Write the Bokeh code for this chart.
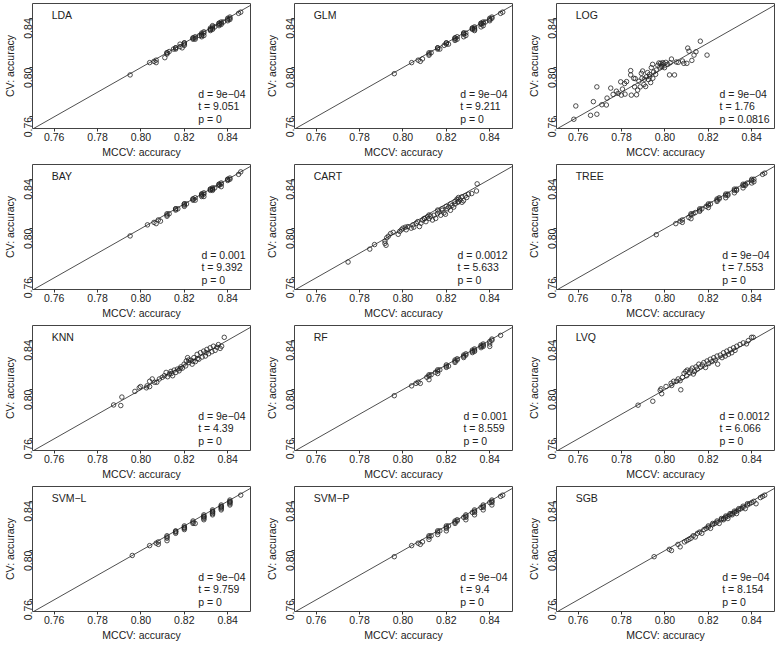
import math
from bokeh.plotting import figure
from bokeh.layouts import gridplot
from bokeh.models import Range1d, FixedTicker, NumeralTickFormatter, Slope, Label
from bokeh.embed import file_html
from bokeh.resources import INLINE

# ---------------- data ----------------
panels = ["LDA", "GLM", "LOG", "BAY", "CART", "TREE",
          "KNN", "RF", "LVQ", "SVM\u2212L", "SVM\u2212P", "SGB"]
d_values = ["9e\u221204", "9e\u221204", "9e\u221204", "0.001", "0.0012", "9e\u221204",
            "9e\u221204", "0.001", "0.0012", "9e\u221204", "9e\u221204", "9e\u221204"]
t_values = ["9.051", "9.211", "1.76", "9.392", "5.633", "7.553",
            "4.39", "8.559", "6.066", "9.759", "9.4", "8.154"]
p_values = ["0", "0", "0.0816", "0", "0", "0", "0", "0", "0", "0", "0", "0"]

x_ticks = [0.76, 0.78, 0.80, 0.82, 0.84]
y_ticks = [0.76, 0.80, 0.84]
x_label = "MCCV: accuracy"
y_label = "CV: accuracy"

LDA_pts = [(0.795,0.794),(0.804,0.804),(0.806,0.805),(0.807,0.806),(0.807,0.804),(0.811,0.808),
           (0.812,0.811),(0.812,0.812),(0.813,0.813),(0.815,0.815),(0.816,0.815),(0.816,0.816),
           (0.818,0.819),(0.818,0.817),(0.819,0.816),(0.820,0.820),(0.820,0.818),(0.820,0.819),
           (0.824,0.823),(0.824,0.824),(0.825,0.824),(0.825,0.825),(0.827,0.826),(0.828,0.827),
           (0.828,0.825),(0.829,0.828),(0.829,0.826),(0.832,0.831),(0.832,0.830),(0.833,0.832),
           (0.833,0.833),(0.833,0.831),(0.834,0.833),(0.836,0.835),(0.836,0.836),(0.837,0.836),
           (0.837,0.837),(0.838,0.837),(0.840,0.838),(0.840,0.839),(0.841,0.840),(0.841,0.841),
           (0.845,0.844),(0.846,0.845),(0.824,0.824),(0.828,0.828),(0.832,0.832),(0.833,0.834),
           (0.836,0.836),(0.840,0.840),(0.841,0.839),(0.820,0.820),(0.816,0.816),(0.812,0.812),
           (0.829,0.829),(0.837,0.835),(0.825,0.823),(0.828,0.826),(0.832,0.831),(0.836,0.834)]
GLM_pts = [(0.796,0.795),(0.804,0.804),(0.807,0.806),(0.808,0.805),(0.809,0.807),(0.812,0.811),
           (0.812,0.810),(0.813,0.812),(0.816,0.815),(0.816,0.816),(0.817,0.815),(0.819,0.818),
           (0.820,0.819),(0.820,0.820),(0.821,0.819),(0.824,0.823),(0.824,0.824),(0.825,0.825),
           (0.828,0.827),(0.828,0.828),(0.829,0.826),(0.832,0.831),(0.832,0.832),(0.833,0.830),
           (0.833,0.832),(0.836,0.835),(0.836,0.836),(0.837,0.834),(0.838,0.837),(0.840,0.839),
           (0.840,0.838),(0.841,0.840),(0.845,0.844),(0.846,0.845),(0.824,0.822),(0.812,0.812),
           (0.828,0.825),(0.836,0.833),(0.820,0.820),(0.824,0.824),(0.828,0.828),(0.829,0.828),
           (0.832,0.832),(0.833,0.833),(0.836,0.836),(0.837,0.836),(0.840,0.840),(0.841,0.841),
           (0.816,0.816),(0.825,0.823),(0.833,0.831),(0.837,0.837)]
LOG_pts = [(0.7580,0.7580),(0.7589,0.7688),(0.7657,0.7612),(0.7670,0.7723),(0.7686,0.7843),
           (0.7686,0.7621),(0.7709,0.7698),(0.7730,0.7696),(0.7733,0.7752),(0.7750,0.7833),
           (0.7761,0.7782),(0.7776,0.7808),(0.7784,0.7790),(0.7796,0.7884),(0.7799,0.7776),
           (0.7804,0.7825),(0.7814,0.7870),(0.7816,0.7784),(0.7823,0.7886),(0.7842,0.7975),
           (0.7842,0.7940),(0.7845,0.7776),(0.7856,0.7913),(0.7860,0.7843),(0.7863,0.7910),
           (0.7869,0.7779),(0.7874,0.7817),(0.7880,0.7889),(0.7886,0.7843),(0.7891,0.7953),
           (0.7894,0.7913),(0.7897,0.7972),(0.7903,0.7862),(0.7911,0.7846),(0.7914,0.7924),
           (0.7920,0.7959),(0.7924,0.7902),(0.7929,0.7943),(0.7934,0.7878),(0.7937,0.7999),
           (0.7943,0.8026),(0.7944,0.7913),(0.7948,0.7964),(0.7957,0.7945),(0.7960,0.7980),
           (0.7967,0.8018),(0.7972,0.8037),(0.7977,0.8004),(0.7980,0.8034),(0.7987,0.8021),
           (0.7998,0.7999),(0.8004,0.8042),(0.8013,0.8026),(0.8021,0.7940),(0.8024,0.8039),
           (0.8030,0.8069),(0.8044,0.7940),(0.8052,0.8045),(0.8061,0.8042),(0.8081,0.8053),
           (0.8087,0.8034),(0.8101,0.8034),(0.8105,0.8158),(0.8111,0.8133),(0.8124,0.8058),
           (0.8134,0.8101),(0.8143,0.8128),(0.8163,0.8214),(0.8194,0.8101),(0.7990,0.8040),
           (0.7995,0.8030),(0.7985,0.8010),(0.7930,0.7925),(0.7905,0.7905)]
BAY_pts = [(0.795,0.794),(0.803,0.803),(0.806,0.805),(0.807,0.804),(0.808,0.807),(0.809,0.806),
           (0.812,0.811),(0.812,0.812),(0.813,0.812),(0.816,0.815),(0.816,0.816),(0.817,0.816),
           (0.820,0.819),(0.820,0.820),(0.821,0.820),(0.824,0.823),(0.824,0.824),(0.825,0.823),
           (0.828,0.827),(0.828,0.828),(0.829,0.828),(0.829,0.826),(0.832,0.831),(0.832,0.832),
           (0.833,0.832),(0.833,0.831),(0.834,0.833),(0.836,0.835),(0.837,0.836),(0.837,0.834),
           (0.840,0.839),(0.840,0.840),(0.841,0.840),(0.845,0.844),(0.846,0.846),(0.820,0.818),
           (0.812,0.810),(0.828,0.826),(0.836,0.836),(0.824,0.824),(0.828,0.828),(0.829,0.829),
           (0.832,0.832),(0.833,0.833),(0.836,0.836),(0.837,0.837),(0.840,0.840),(0.841,0.841),
           (0.820,0.820),(0.816,0.816),(0.825,0.825),(0.833,0.832)]
CART_pts = [(0.7747,0.7728),(0.7847,0.7833),(0.7869,0.7870),(0.7917,0.7898),(0.7917,0.7880),
            (0.7922,0.7864),(0.7925,0.7925),(0.7933,0.7938),(0.7943,0.7959),(0.7955,0.7969),
            (0.7978,0.7953),(0.7985,0.7977),(0.7993,0.7990),(0.8000,0.8003),(0.8011,0.8011),
            (0.8023,0.8016),(0.8015,0.7990),(0.8038,0.8003),(0.8046,0.8030),(0.8050,0.8011),
            (0.8061,0.8043),(0.8068,0.8056),(0.8076,0.8016),(0.8083,0.8043),(0.8091,0.8069),
            (0.8098,0.8082),(0.8106,0.8056),(0.8113,0.8095),(0.8121,0.8082),(0.8128,0.8100),
            (0.8136,0.8069),(0.8143,0.8108),(0.8151,0.8082),(0.8159,0.8121),(0.8166,0.8134),
            (0.8174,0.8108),(0.8181,0.8148),(0.8189,0.8127),(0.8196,0.8116),(0.8204,0.8161),
            (0.8211,0.8174),(0.8219,0.8148),(0.8226,0.8187),(0.8234,0.8174),(0.8241,0.8200),
            (0.8249,0.8239),(0.8253,0.8213),(0.8256,0.8252),(0.8264,0.8232),(0.8272,0.8258),
            (0.8279,0.8226),(0.8287,0.8266),(0.8294,0.8252),(0.8302,0.8279),(0.8256,0.8221),
            (0.8272,0.8213),(0.8317,0.8284),(0.8339,0.8305),(0.8342,0.8363),(0.8180,0.8160),
            (0.8200,0.8180),(0.8220,0.8200),(0.8160,0.8150),(0.8120,0.8110),(0.8100,0.8080),
            (0.8240,0.8220)]
TREE_pts = [(0.796,0.795),(0.805,0.804),(0.807,0.806),(0.808,0.807),(0.808,0.805),(0.811,0.809),
            (0.812,0.808),(0.812,0.811),(0.813,0.812),(0.814,0.813),(0.816,0.815),(0.816,0.816),
            (0.817,0.816),(0.819,0.818),(0.820,0.819),(0.820,0.817),(0.821,0.820),(0.824,0.823),
            (0.824,0.822),(0.825,0.824),(0.828,0.827),(0.828,0.825),(0.829,0.828),(0.832,0.831),
            (0.832,0.829),(0.833,0.832),(0.836,0.835),(0.836,0.833),(0.837,0.836),(0.838,0.837),
            (0.840,0.839),(0.840,0.837),(0.841,0.840),(0.845,0.844),(0.846,0.845),(0.820,0.820),
            (0.824,0.824),(0.828,0.828),(0.829,0.827),(0.832,0.832),(0.833,0.831),(0.836,0.836),
            (0.837,0.835),(0.840,0.840),(0.841,0.838),(0.816,0.814),(0.812,0.812),(0.825,0.825)]
KNN_pts = [(0.7874,0.7875),(0.7907,0.7870),(0.7912,0.7939),(0.7972,0.7985),(0.7992,0.8014),
           (0.7998,0.8024),(0.8025,0.8014),(0.8028,0.8030),(0.8040,0.8024),(0.8063,0.8059),
           (0.8040,0.8067),(0.8052,0.8086),(0.8073,0.8059),(0.8085,0.8086),(0.8098,0.8099),
           (0.8108,0.8112),(0.8116,0.8139),(0.8123,0.8104),(0.8131,0.8126),(0.8138,0.8147),
           (0.8146,0.8112),(0.8153,0.8158),(0.8161,0.8139),(0.8168,0.8166),(0.8176,0.8152),
           (0.8184,0.8184),(0.8191,0.8174),(0.8199,0.8206),(0.8206,0.8192),(0.8209,0.8232),
           (0.8215,0.8259),(0.8221,0.8219),(0.8229,0.8238),(0.8236,0.8206),(0.8244,0.8259),
           (0.8251,0.8227),(0.8259,0.8286),(0.8267,0.8246),(0.8274,0.8299),(0.8282,0.8264),
           (0.8289,0.8312),(0.8297,0.8272),(0.8304,0.8326),(0.8312,0.8291),(0.8319,0.8339),
           (0.8327,0.8307),(0.8334,0.8352),(0.8342,0.8318),(0.8350,0.8344),(0.8357,0.8365),
           (0.8365,0.8334),(0.8372,0.8352),(0.8384,0.8424),(0.8240,0.8230),(0.8260,0.8250),
           (0.8220,0.8240),(0.8300,0.8300),(0.8180,0.8170),(0.8140,0.8130)]
RF_pts = [(0.796,0.795),(0.804,0.803),(0.806,0.805),(0.807,0.806),(0.808,0.805),(0.811,0.810),
          (0.812,0.811),(0.812,0.808),(0.813,0.812),(0.815,0.814),(0.816,0.815),(0.816,0.813),
          (0.817,0.816),(0.820,0.819),(0.820,0.820),(0.821,0.819),(0.824,0.823),(0.824,0.822),
          (0.825,0.824),(0.828,0.827),(0.828,0.826),(0.829,0.828),(0.832,0.831),(0.832,0.830),
          (0.833,0.832),(0.836,0.835),(0.836,0.834),(0.837,0.836),(0.840,0.839),(0.840,0.837),
          (0.840,0.835),(0.841,0.840),(0.845,0.844),(0.820,0.818),(0.824,0.824),(0.828,0.828),
          (0.829,0.829),(0.832,0.832),(0.833,0.833),(0.836,0.836),(0.837,0.837),(0.841,0.841),
          (0.816,0.816),(0.812,0.812),(0.825,0.825),(0.833,0.831),(0.837,0.835)]
LVQ_pts = [(0.7876,0.7873),(0.7944,0.7905),(0.7978,0.7993),(0.7982,0.8006),(0.7985,0.7966),
           (0.8005,0.8025),(0.8028,0.8051),(0.8031,0.8033),(0.8040,0.8067),(0.8053,0.8067),
           (0.8061,0.8086),(0.8070,0.8072),(0.8073,0.7998),(0.8081,0.8099),(0.8088,0.8131),
           (0.8096,0.8147),(0.8100,0.8112),(0.8103,0.8158),(0.8111,0.8139),(0.8119,0.8158),
           (0.8126,0.8174),(0.8131,0.8126),(0.8137,0.8147),(0.8143,0.8184),(0.8149,0.8166),
           (0.8156,0.8206),(0.8164,0.8184),(0.8172,0.8200),(0.8179,0.8219),(0.8187,0.8179),
           (0.8194,0.8232),(0.8202,0.8211),(0.8209,0.8246),(0.8217,0.8227),(0.8225,0.8259),
           (0.8232,0.8238),(0.8240,0.8272),(0.8243,0.8206),(0.8255,0.8280),(0.8263,0.8259),
           (0.8270,0.8299),(0.8278,0.8272),(0.8285,0.8312),(0.8293,0.8286),(0.8300,0.8326),
           (0.8308,0.8299),(0.8316,0.8339),(0.8323,0.8318),(0.8331,0.8352),(0.8346,0.8366),
           (0.8361,0.8379),(0.8376,0.8371),(0.8384,0.8397),(0.8399,0.8424),(0.8407,0.8424)]
SVML_pts = [(0.796,0.796),(0.804,0.804),(0.807,0.806),(0.808,0.807),(0.808,0.805),(0.812,0.811),
            (0.812,0.810),(0.812,0.808),(0.816,0.815),(0.816,0.816),(0.816,0.814),(0.820,0.819),
            (0.820,0.820),(0.820,0.818),(0.820,0.817),(0.824,0.823),(0.824,0.824),(0.825,0.822),
            (0.829,0.828),(0.829,0.827),(0.829,0.826),(0.829,0.825),(0.833,0.832),(0.833,0.831),
            (0.833,0.830),(0.833,0.829),(0.837,0.836),(0.837,0.835),(0.837,0.834),(0.837,0.833),
            (0.841,0.840),(0.841,0.839),(0.841,0.838),(0.841,0.837),(0.846,0.845),(0.829,0.829),
            (0.833,0.833),(0.837,0.837),(0.841,0.841),(0.824,0.822),(0.820,0.8185),(0.829,0.8275),
            (0.833,0.8315),(0.837,0.8355),(0.841,0.8395),(0.816,0.8155),(0.812,0.812)]
SVMP_pts = [(0.796,0.795),(0.804,0.804),(0.807,0.806),(0.808,0.805),(0.809,0.807),(0.812,0.811),
            (0.812,0.809),(0.813,0.812),(0.816,0.815),(0.816,0.813),(0.817,0.816),(0.820,0.819),
            (0.820,0.818),(0.820,0.816),(0.821,0.820),(0.824,0.823),(0.824,0.822),(0.825,0.824),
            (0.828,0.827),(0.829,0.828),(0.829,0.825),(0.832,0.831),(0.833,0.832),(0.833,0.829),
            (0.836,0.835),(0.837,0.836),(0.837,0.833),(0.840,0.839),(0.841,0.840),(0.841,0.837),
            (0.845,0.844),(0.846,0.845),(0.820,0.820),(0.824,0.824),(0.829,0.829),(0.833,0.833),
            (0.837,0.837),(0.841,0.841),(0.829,0.827),(0.833,0.831),(0.837,0.835),(0.841,0.839),
            (0.816,0.816),(0.812,0.812),(0.825,0.825)]
SGB_pts = [(0.795,0.795),(0.802,0.801),(0.803,0.800),(0.806,0.805),(0.807,0.803),(0.809,0.807),
           (0.810,0.808),(0.811,0.809),(0.812,0.810),(0.813,0.812),(0.814,0.811),(0.815,0.814),
           (0.816,0.815),(0.817,0.814),(0.818,0.817),(0.819,0.818),(0.820,0.819),(0.821,0.818),
           (0.822,0.821),(0.823,0.822),(0.824,0.823),(0.825,0.822),(0.826,0.825),(0.827,0.826),
           (0.828,0.827),(0.829,0.826),(0.830,0.829),(0.831,0.830),(0.832,0.831),(0.833,0.830),
           (0.834,0.833),(0.835,0.834),(0.836,0.835),(0.837,0.834),(0.838,0.837),(0.839,0.838),
           (0.840,0.839),(0.841,0.840),(0.842,0.838),(0.844,0.843),(0.845,0.844),(0.846,0.845),
           (0.820,0.820),(0.822,0.822),(0.824,0.824),(0.826,0.826),(0.828,0.828),(0.830,0.830),
           (0.832,0.832),(0.834,0.834),(0.836,0.836),(0.838,0.838),(0.829,0.828),(0.831,0.829),
           (0.833,0.832),(0.827,0.825)]

panel_points = [LDA_pts, GLM_pts, LOG_pts, BAY_pts, CART_pts, TREE_pts,
                KNN_pts, RF_pts, LVQ_pts, SVML_pts, SVMP_pts, SGB_pts]

# ---------------- layout / style ----------------
X0, X1 = 0.750, 0.8505
Y0, Y1 = 0.7505, 0.852
FRAME_W, FRAME_H = 218, 125
FONT = "Liberation Sans"
FS_PX = 10.5
FS = f"{FS_PX}px"
INK = "#222222"

# approximate Arial/Liberation Sans advance widths (em) for right-aligning the stats block
CHAR_EM = {"d": 0.556, "t": 0.278, "p": 0.556, "e": 0.556, " ": 0.278, "=": 0.584,
           "\u2212": 0.584, ".": 0.278}

def text_px(s):
    return sum(CHAR_EM.get(c, 0.556) for c in s) * FS_PX

def fx(f):
    return X0 + f * (X1 - X0)

def fy(f):
    return Y0 + f * (Y1 - Y0)

figs = []
for name, pts, dv, tv, pv in zip(panels, panel_points, d_values, t_values, p_values):
    p = figure(frame_width=FRAME_W, frame_height=FRAME_H, output_backend="svg",
               toolbar_location=None,
               x_range=Range1d(X0, X1), y_range=Range1d(Y0, Y1),
               min_border_left=28, min_border_right=12, min_border_top=3, min_border_bottom=33)
    p.grid.visible = False
    p.background_fill_color = "white"
    p.border_fill_color = "white"
    p.outline_line_color = "#444444"
    p.outline_line_width = 1

    p.xaxis.ticker = FixedTicker(ticks=x_ticks)
    p.yaxis.ticker = FixedTicker(ticks=y_ticks)
    for ax in (p.xaxis[0], p.yaxis[0]):
        ax.formatter = NumeralTickFormatter(format="0.00")
        ax.axis_line_color = None
        ax.major_tick_line_color = "#333333"
        ax.minor_tick_line_color = None
        ax.major_tick_out = 3
        ax.major_tick_in = 0
        ax.major_label_standoff = 1
        ax.axis_label_standoff = 2
        ax.major_label_text_font = FONT
        ax.major_label_text_font_size = FS
        ax.major_label_text_color = INK
        ax.axis_label_text_font = FONT
        ax.axis_label_text_font_size = FS
        ax.axis_label_text_font_style = "normal"
        ax.axis_label_text_color = INK
    p.xaxis.axis_label = x_label
    p.yaxis.axis_label = y_label
    p.yaxis.major_label_orientation = math.pi / 2

    p.add_layout(Slope(gradient=1, y_intercept=0, line_color=INK, line_width=0.8))
    xs = [a for a, b in pts]
    ys = [b for a, b in pts]
    p.scatter(xs, ys, marker="circle", size=4.5, fill_color=None,
              line_color=INK, line_width=0.8)

    p.add_layout(Label(x=fx(0.088), y=fy(0.905), text=name, text_font=FONT,
                       text_font_size=FS, text_color=INK, text_baseline="middle"))
    lines = ["d = " + dv, "t = " + tv, "p = " + pv]
    block_w = max(text_px(s) for s in lines)
    left_px = FRAME_W - 5 - block_w
    for txt, f in zip(lines, [0.28, 0.177, 0.08]):
        p.add_layout(Label(x=fx(left_px / FRAME_W), y=fy(f), text=txt, text_font=FONT,
                           text_font_size=FS, text_color=INK, text_baseline="middle"))
    figs.append(p)

grid = gridplot(figs, ncols=3, toolbar_location=None)
open("out.html", "w").write(file_html(grid, INLINE))
